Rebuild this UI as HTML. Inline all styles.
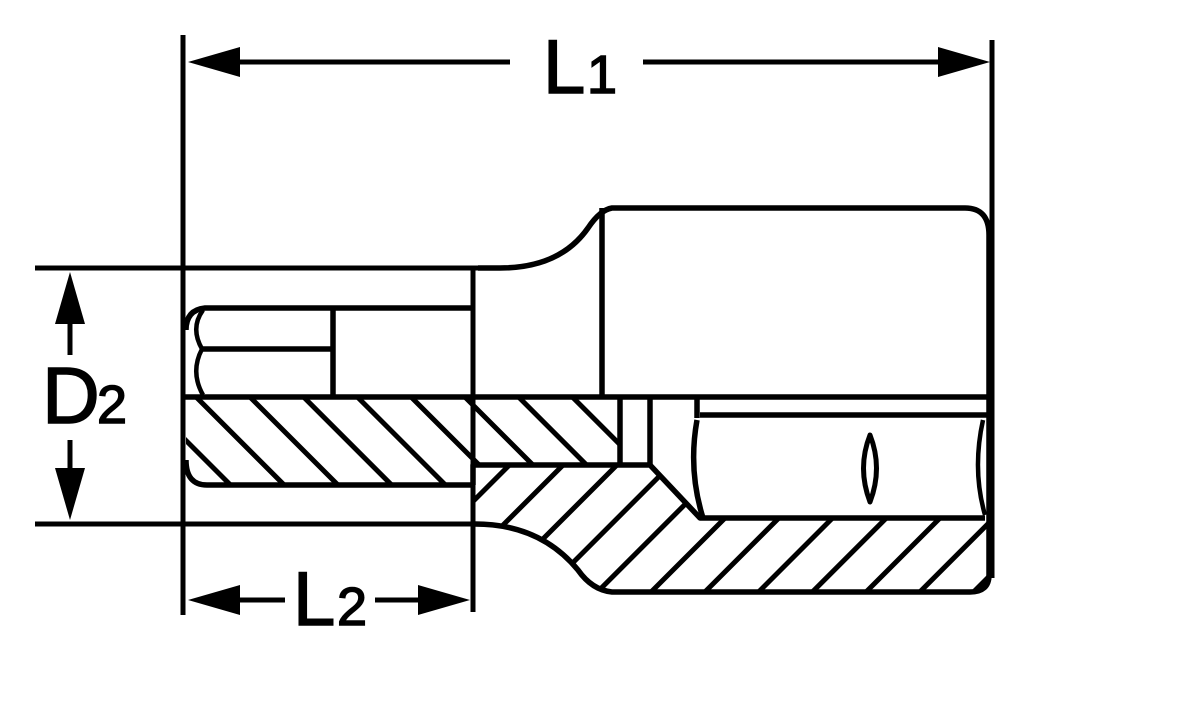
<!DOCTYPE html>
<html><head><meta charset="utf-8"><style>
html,body{margin:0;padding:0;background:#fff;}
svg{display:block;}
text{font-family:"Liberation Sans",sans-serif;fill:#000;stroke:#000;stroke-width:1.5;}
</style></head><body>
<svg width="1200" height="701" viewBox="0 0 1200 701" xmlns="http://www.w3.org/2000/svg">
<defs>
<pattern id="hb" patternUnits="userSpaceOnUse" width="38" height="38" patternTransform="rotate(-45 0 0) translate(-9 0)">
<line x1="19" y1="-5" x2="19" y2="50" stroke="#000" stroke-width="5"/>
</pattern>
<pattern id="hf" patternUnits="userSpaceOnUse" width="38" height="38" patternTransform="rotate(45 0 0) translate(-14 0)">
<line x1="19" y1="-5" x2="19" y2="50" stroke="#000" stroke-width="5"/>
</pattern>
</defs>
<g fill="none" stroke="#000" stroke-width="5" stroke-linejoin="round">
<line x1="183" y1="35" x2="183" y2="615"/>
<line x1="992" y1="40" x2="992" y2="578"/>
<line x1="35" y1="268" x2="478" y2="268"/>
<line x1="35" y1="524" x2="475" y2="524"/>
<line x1="473" y1="268" x2="473" y2="612"/>
<line x1="230" y1="62" x2="510" y2="62"/>
<line x1="643" y1="62" x2="945" y2="62"/>
<line x1="70" y1="318" x2="70" y2="355"/>
<line x1="70" y1="440" x2="70" y2="478"/>
<line x1="230" y1="600" x2="285" y2="600"/>
<line x1="375" y1="600" x2="425" y2="600"/>
</g>
<g fill="#000">
<polygon points="188,62 240,47 240,77"/>
<polygon points="990,62 938,47 938,77"/>
<polygon points="70,272 55,324 85,324"/>
<polygon points="70,520 55,468 85,468"/>
<polygon points="188,600 240,585 240,615"/>
<polygon points="470,600 418,585 418,615"/>
</g>
<text x="543" y="93" font-size="76">L</text>
<text x="587" y="93" font-size="54">1</text>
<text x="42" y="423" font-size="80">D</text>
<text x="97" y="423" font-size="54">2</text>
<text x="293" y="625" font-size="76">L</text>
<text x="337" y="625" font-size="54">2</text>

<path d="M186,397 L620,397 L620,465 L473,465 L473,485 L207,485 Q186,485 186,465 Z" fill="url(#hb)"/>
<path d="M473,465 L650,465 L700,518 L988,518 L988,575 Q988,592 970,592 L612,592 Q592,590 578,570 Q540,524 475,524 Z" fill="url(#hf)"/>

<g fill="none" stroke="#000" stroke-width="5.5" stroke-linejoin="round">
<path d="M183,397 L988,397"/>
<path d="M186,460 Q186,485 207,485 L473,485"/>
<path d="M473,485 L473,465 L650,465 L700,518 L985,518"/>
<line x1="620" y1="397" x2="620" y2="465"/>
<line x1="650" y1="397" x2="650" y2="465"/>
<path d="M475,524 Q540,524 578,570 Q592,590 612,592 L970,592 Q989,592 989,575 L989,235 Q989,208 965,208 L612,208 Q600,210 588,228 Q560,268 500,268 L478,268"/>
<line x1="602" y1="208" x2="602" y2="397"/>
<path d="M473,308 L205,308 Q186,310 186,330"/>
<line x1="200" y1="349" x2="333" y2="349"/>
<line x1="333" y1="308" x2="333" y2="397"/>
<path d="M203,310 Q190,328 202,349 Q190,372 203,395" stroke-width="4.5"/>
<line x1="700" y1="415" x2="988" y2="415"/>
<line x1="697" y1="397" x2="697" y2="418"/>
<path d="M697,420 Q688,470 703,518"/>
<path d="M983,420 Q972,470 985,515" stroke-width="4.5"/>
<path d="M870,435 Q857,468 870,502 Q883,468 870,435 Z" stroke-width="5"/>
</g>
</svg>
</body></html>
